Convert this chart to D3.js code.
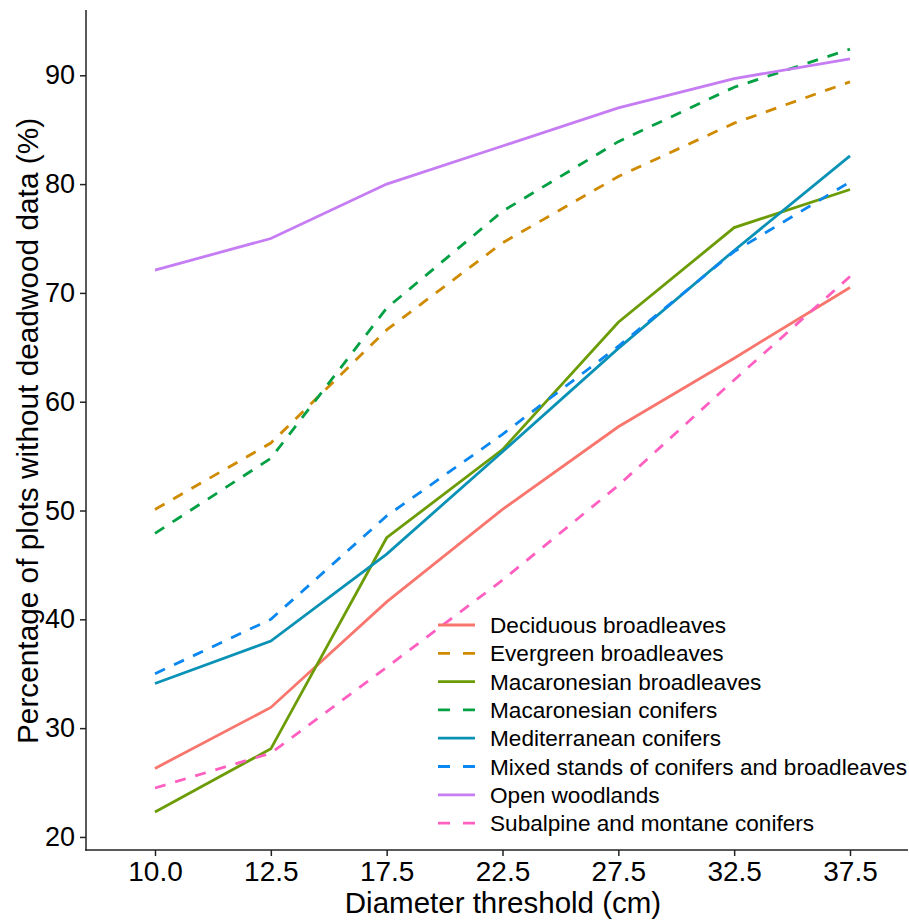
<!DOCTYPE html>
<html lang="en">
<head>
<meta charset="UTF-8">
<title>Plots without deadwood data</title>
<script src="https://cdn.jsdelivr.net/npm/d3@7"></script>
<style>
  body { margin: 0; background: #fff; font-family: Arial, "Liberation Sans", Helvetica, sans-serif; }
  svg text { fill: #000; }
</style>
</head>
<body>
<div id="chart"></div>
<script>
// diameter thresholds (cm), shown as discrete categories
var thresholds = ["10.0", "12.5", "17.5", "22.5", "27.5", "32.5", "37.5"];

var forestTypes = [
  "Deciduous broadleaves",
  "Evergreen broadleaves",
  "Macaronesian broadleaves",
  "Macaronesian conifers",
  "Mediterranean conifers",
  "Mixed stands of conifers and broadleaves",
  "Open woodlands",
  "Subalpine and montane conifers"
];

// percentage of plots without deadwood data, one array per forest type
var deciduousBroadleaves   = [26.3, 31.9, 41.6, 50.1, 57.7, 64.0, 70.5];
var evergreenBroadleaves   = [50.1, 56.2, 66.6, 74.6, 80.7, 85.6, 89.4];
var macaronesianBroadleaves = [22.3, 28.1, 47.5, 55.6, 67.3, 76.0, 79.5];
var macaronesianConifers   = [47.9, 54.8, 68.6, 77.5, 83.9, 88.9, 92.4];
var mediterraneanConifers  = [34.1, 38.0, 46.0, 55.4, 64.9, 73.9, 82.6];
var mixedStands            = [35.0, 40.0, 49.5, 57.0, 65.1, 73.8, 80.2];
var openWoodlands          = [72.1, 75.0, 80.0, 83.5, 87.0, 89.7, 91.5];
var subalpineConifers      = [24.5, 27.7, 35.6, 43.6, 52.3, 62.0, 71.5];

var yTicks = [20, 30, 40, 50, 60, 70, 80, 90];

var seriesValues = [deciduousBroadleaves, evergreenBroadleaves, macaronesianBroadleaves,
  macaronesianConifers, mediterraneanConifers, mixedStands, openWoodlands, subalpineConifers];

var colors = ["#F8766D", "#CF8A00", "#6C9C05", "#03A043", "#0A91B6", "#0A87F0", "#C67CF2", "#FF5FC1"];
var dashed = [false, true, false, true, false, true, false, true];

var width = 909, height = 920;
var plot = { left: 86, right: 908, top: 10, bottom: 850 };

var svg = d3.select("#chart").append("svg")
  .attr("width", width)
  .attr("height", height);

var x = d3.scalePoint()
  .domain(thresholds)
  .range([155, 850]);

var y = d3.scaleLinear()
  .domain([18.8, 96.0])
  .range([plot.bottom, plot.top]);

// y axis
var yAxis = svg.append("g")
  .attr("transform", "translate(" + plot.left + ",0)")
  .call(d3.axisLeft(y).tickValues(yTicks).tickSize(6).tickPadding(5).tickFormat(d3.format("d")));
yAxis.select(".domain").remove();
yAxis.selectAll(".tick line").attr("stroke", "#222").attr("stroke-width", 1.5);
yAxis.selectAll(".tick text")
  .style("font-size", "27px")
  .attr("fill", "#000");

// x axis
var xAxis = svg.append("g")
  .attr("transform", "translate(0," + plot.bottom + ")")
  .call(d3.axisBottom(x).tickSize(6).tickPadding(5));
xAxis.select(".domain").remove();
xAxis.selectAll(".tick line").attr("stroke", "#222").attr("stroke-width", 1.5);
xAxis.selectAll(".tick text")
  .style("font-size", "28px")
  .attr("fill", "#000");

// axis lines
svg.append("line")
  .attr("x1", plot.left).attr("x2", plot.left)
  .attr("y1", plot.top).attr("y2", plot.bottom + 0.75)
  .attr("stroke", "#222").attr("stroke-width", 1.5);
svg.append("line")
  .attr("x1", plot.left - 0.75).attr("x2", plot.right)
  .attr("y1", plot.bottom).attr("y2", plot.bottom)
  .attr("stroke", "#222").attr("stroke-width", 1.5);

// lines
var line = d3.line()
  .x(function (d, i) { return x(thresholds[i]); })
  .y(function (d) { return y(d); });

svg.append("g")
  .selectAll("path")
  .data(seriesValues)
  .enter()
  .append("path")
  .attr("d", line)
  .attr("fill", "none")
  .attr("stroke", function (d, i) { return colors[i]; })
  .attr("stroke-width", 2.8)
  .attr("stroke-dasharray", function (d, i) { return dashed[i] ? "11,10" : null; });

// axis titles
svg.append("text")
  .attr("x", 503)
  .attr("y", 913)
  .attr("text-anchor", "middle")
  .style("font-size", "29.5px")
  .text("Diameter threshold (cm)");

svg.append("text")
  .attr("transform", "translate(38,431) rotate(-90)")
  .attr("text-anchor", "middle")
  .style("font-size", "29.8px")
  .text("Percentage of plots without deadwood data (%)");

// legend
var legend = svg.append("g")
  .attr("transform", "translate(438,625)");

var rows = legend.selectAll("g")
  .data(forestTypes)
  .enter()
  .append("g")
  .attr("transform", function (d, i) { return "translate(0," + (i * 28.3) + ")"; });

rows.append("line")
  .attr("x1", 0).attr("x2", 37)
  .attr("y1", 0).attr("y2", 0)
  .attr("stroke", function (d, i) { return colors[i]; })
  .attr("stroke-width", 2.8)
  .attr("stroke-dasharray", function (d, i) { return dashed[i] ? "12,13" : null; });

rows.append("text")
  .attr("x", 52)
  .attr("y", 8)
  .style("font-size", "22.6px")
  .text(function (d) { return d; });
</script>
</body>
</html>
